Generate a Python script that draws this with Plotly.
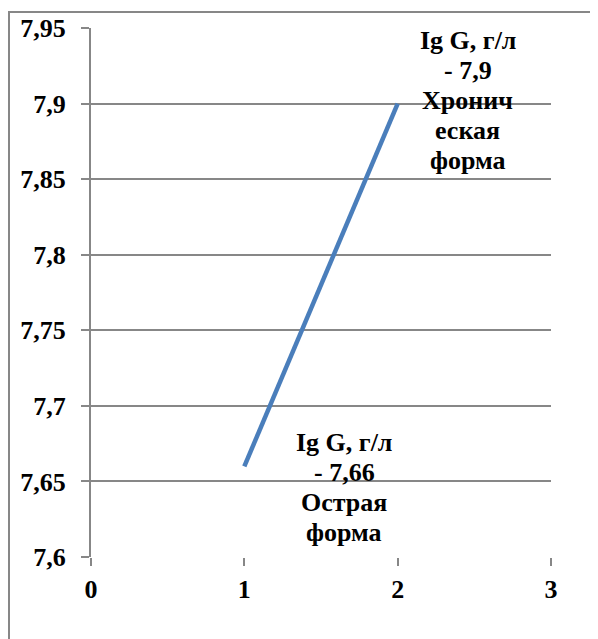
import plotly.graph_objects as go

x_vals = [1, 2]
y_vals = [7.66, 7.9]
labels_top = ["Ig G, г/л", "- 7,9", "Хронич", "еская", "форма"]
labels_bottom = ["Ig G, г/л", "- 7,66", "Острая", "форма"]
y_ticks = [7.6, 7.65, 7.7, 7.75, 7.8, 7.85, 7.9, 7.95]
y_tick_text = ["7,6", "7,65", "7,7", "7,75", "7,8", "7,85", "7,9", "7,95"]
x_ticks = [0, 1, 2, 3]

FONT = "Liberation Serif"
GRID = "#878787"

fig = go.Figure()
fig.add_trace(go.Scatter(x=x_vals, y=y_vals, mode="lines",
                         line=dict(color="#4A7EBB", width=4.5),
                         hoverinfo="skip", showlegend=False))

def add_label(xv, yv, lines, xshift, first_shift):
    for i, t in enumerate(lines):
        fig.add_annotation(x=xv, y=yv, xref="x", yref="y", text=t,
                           showarrow=False, xanchor="center", yanchor="middle",
                           xshift=xshift, yshift=-(first_shift + 30 * i),
                           font=dict(family=FONT, size=26, color="black", weight="bold"))

add_label(x_vals[1], y_vals[1], labels_top, 70, -63)
add_label(x_vals[0], y_vals[0], labels_bottom, 100, -24)

PW, PH = 460, 529
L, T = 83, 20
fig.update_layout(
    template="none",
    width=598, height=639,
    margin=dict(l=L, r=598 - L - PW, t=T, b=639 - T - PH),
    paper_bgcolor="white", plot_bgcolor="white",
    font=dict(family=FONT, color="black", weight="bold"),
    showlegend=False,
    xaxis=dict(range=[0, 3], tickvals=x_ticks,
               showgrid=False, zeroline=False, automargin=False,
               showline=False, ticks="outside", ticklen=8, tickwidth=2, tickcolor=GRID,
               tickfont=dict(family=FONT, size=26, color="black", weight="bold"),
               ticklabelstandoff=1, fixedrange=True),
    yaxis=dict(range=[7.6, 7.95], tickvals=y_ticks, ticktext=y_tick_text,
               showgrid=True, gridcolor=GRID, gridwidth=2, zeroline=False, automargin=False,
               showline=True, linecolor=GRID, linewidth=2,
               ticks="outside", ticklen=8, tickwidth=2, tickcolor=GRID,
               tickfont=dict(family=FONT, size=26, color="black", weight="bold"),
               ticklabelstandoff=10, fixedrange=True),
    shapes=[dict(type="rect", xref="paper", yref="paper",
                 x0=-82 / PW, x1=1.2, y0=-0.2, y1=1 + (T - 4) / PH,
                 line=dict(color=GRID, width=2), fillcolor="rgba(0,0,0,0)", layer="above")],
)

fig.write_html("out.html")
